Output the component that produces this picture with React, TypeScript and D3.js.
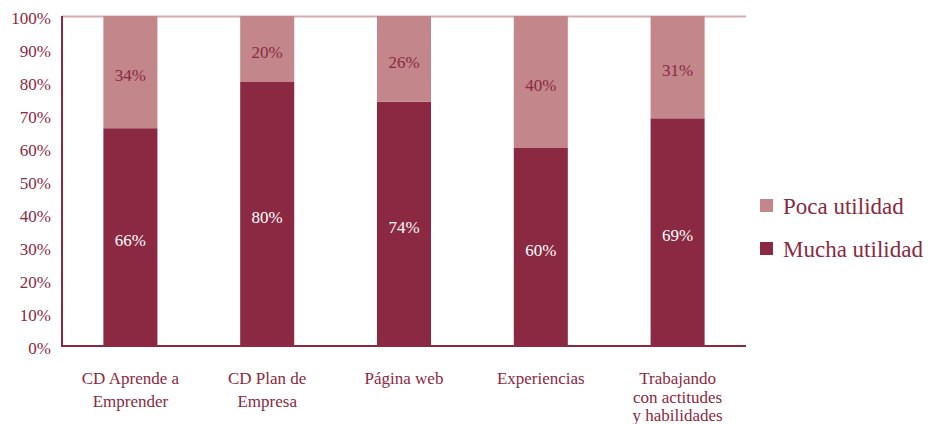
import React from "react";
import * as d3 from "d3";

const categories: string[][] = [
  ["CD Aprende  a", "Emprender"],
  ["CD Plan de", "Empresa"],
  ["Página web"],
  ["Experiencias"],
  ["Trabajando", "con actitudes", "y habilidades"],
];
const mucha = [66, 80, 74, 60, 69];
const poca = [34, 20, 26, 40, 31];
const yTicks = [0, 10, 20, 30, 40, 50, 60, 70, 80, 90, 100];
const seriesNames = ["Poca utilidad", "Mucha utilidad"];

const DARK = "#8B2942";
const LIGHT = "#C2868B";
const FONT = '"Liberation Serif", "Times New Roman", Tinos, "DejaVu Serif", "Noto Serif", serif';
const ts = { fontFamily: FONT };

export default function App() {
  const W = 937, H = 424;
  const left = 62, right = 746, top = 16, bottom = 346;
  const x = d3.scaleBand<number>().domain(d3.range(categories.length)).range([left, right]).paddingInner(0.605).paddingOuter(0.3025);
  const y = d3.scaleLinear().domain([0, 100]).range([bottom, top]);
  return (
    <svg width={W} height={H} style={{ position: "absolute", left: 0, top: 0, fontFamily: FONT }}>
      <rect width={W} height={H} fill="#fff" />
      <line x1={left} x2={right} y1={top + 0.5} y2={top + 0.5} stroke="#D8A9AE" strokeWidth={2} />
      {mucha.map((m, i) => {
        const bx = x(i)!;
        const bw = x.bandwidth();
        const p = poca[i];
        return (
          <g key={i}>
            <rect x={bx} y={y(m)} width={bw} height={y(0) - y(m)} fill={DARK} />
            <rect x={bx} y={y(m + p)} width={bw} height={y(m) - y(m + p)} fill={LIGHT} />
            <text style={ts} x={bx + bw / 2} y={(y(0) + y(m)) / 2 + 3} dy="0.35em" textAnchor="middle" fontSize={17} fill="#fff">{m}%</text>
            <text style={ts} x={bx + bw / 2} y={(y(m) + y(m + p)) / 2 + 3} dy="0.35em" textAnchor="middle" fontSize={17} fill={DARK}>{p}%</text>
          </g>
        );
      })}
      <line x1={left} x2={left} y1={top} y2={bottom + 1} stroke={DARK} strokeWidth={2} />
      <line x1={left} x2={right} y1={bottom} y2={bottom} stroke={DARK} strokeWidth={2} />
      {yTicks.map((t) => (
        <text style={ts} key={t} x={51} y={y(t) + 2} dy="0.35em" textAnchor="end" fontSize={17} fill={DARK}>{t}%</text>
      ))}
      {categories.map((lines, i) => {
        const cx = x(i)! + x.bandwidth() / 2;
        const lh = lines.length > 2 ? 18.5 : 22.5;
        return (
          <text style={ts} key={i} textAnchor="middle" fontSize={17} fill={DARK}>
            {lines.map((l, j) => (
              <tspan key={j} x={cx} y={384 + j * lh}>{l}</tspan>
            ))}
          </text>
        );
      })}
      {seriesNames.map((s, i) => (
        <g key={s}>
          <rect x={760} y={199 + i * 43} width={13} height={13} fill={i === 0 ? LIGHT : DARK} />
          <text style={ts} x={783} y={214 + i * 43} fontSize={23} fill={DARK}>{s}</text>
        </g>
      ))}
    </svg>
  );
}
